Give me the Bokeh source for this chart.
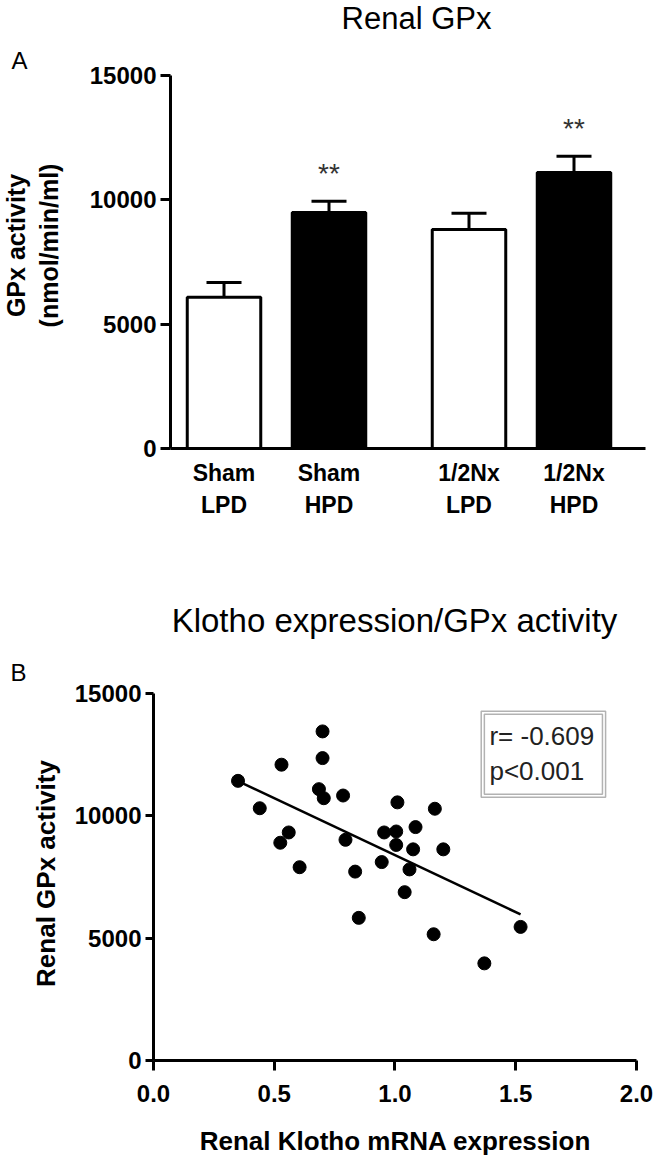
import math
from bokeh.plotting import figure
from bokeh.layouts import column
from bokeh.models import Label, FixedTicker, BoxAnnotation, Range1d, NumeralTickFormatter
from bokeh.core.properties import value
from bokeh.embed import file_html
from bokeh.resources import INLINE

# ---------------- data ----------------
groups = ["Sham\nLPD", "Sham\nHPD", "1/2Nx\nLPD", "1/2Nx\nHPD"]
gpx_mean = [6080, 9490, 8810, 11100]
gpx_sem = [600, 450, 650, 650]
signif = ["", "**", "", "**"]

klotho_mrna = [0.35, 0.44, 0.53, 0.70, 0.70, 0.685, 0.705, 0.785, 0.56, 0.525,
               0.605, 0.795, 0.835, 0.945, 0.955, 1.01, 1.005, 1.005, 1.085, 1.075,
               1.20, 1.06, 1.04, 1.165, 0.85, 1.16, 1.52, 1.37]
renal_gpx = [11430, 10310, 12090, 13450, 12360, 11090, 10720, 10830, 9320, 8900,
             7900, 9020, 7720, 8110, 9320, 10550, 9360, 8810, 9540, 8630,
             8630, 7810, 6880, 10290, 5830, 5160, 5460, 3970]
fit_x = [0.35, 1.52]
fit_y = [11420, 5970]
stats_text = ["r= -0.609", "p<0.001"]

FONT = "Liberation Sans"


def style_axis(ax, size="24px", tick_out=10, standoff=4):
    ax.major_tick_out = tick_out
    ax.major_tick_in = 0
    ax.major_tick_line_width = 3
    ax.major_tick_line_color = "black"
    ax.minor_tick_line_color = None
    ax.axis_line_width = 3
    ax.axis_line_color = "black"
    ax.major_label_text_font = FONT
    ax.major_label_text_font_style = "bold"
    ax.major_label_text_font_size = size
    ax.major_label_text_color = "black"
    ax.major_label_standoff = standoff


def label(p, x, y, text, size, bold=False, angle=0.0, align="center", color="black"):
    p.add_layout(Label(x=x, y=y, text=text, text_align=align, text_baseline="middle",
                       angle=angle, text_font=FONT, text_font_style="bold" if bold else "normal",
                       text_font_size=size, text_color=color))


# ---------------- panel A ----------------
xpos = [1, 4, 8, 11]
fills = ["white", "black", "white", "black"]

p1 = figure(width=666, height=563, output_backend="svg", toolbar_location=None,
            x_range=Range1d(-5.386, 13.643), y_range=Range1d(-4625, 18016),
            min_border=0, min_border_left=0, min_border_right=0,
            min_border_top=0, min_border_bottom=0)
p1.outline_line_color = None
p1.grid.grid_line_color = None

err_top = [m + s for m, s in zip(gpx_mean, gpx_sem)]
p1.segment(x0=xpos, y0=gpx_mean, x1=xpos, y1=err_top, line_color="black", line_width=3)
p1.segment(x0=[x - 0.5 for x in xpos], y0=err_top, x1=[x + 0.5 for x in xpos], y1=err_top,
           line_color="black", line_width=3)
p1.vbar(x=xpos, top=gpx_mean, width=2.1, bottom=0, fill_color=fills, line_color="black", line_width=3)
p1.text(x=xpos, y=[t + 1100 for t in err_top], text=signif, text_align="center",
        text_baseline="alphabetic", text_font=value(FONT), text_font_size="28px", text_color="#333333")

xa = p1.xaxis[0]
xa.fixed_location = 0
xa.bounds = (-0.529, 13.043)
xa.ticker = FixedTicker(ticks=xpos)
xa.major_label_overrides = {x: g for x, g in zip(xpos, groups)}
style_axis(xa, size="23px", tick_out=0, standoff=12)
xa.major_tick_line_color = None

ya = p1.yaxis[0]
ya.fixed_location = -0.529
ya.bounds = (0, 15000)
ya.ticker = FixedTicker(ticks=[0, 5000, 10000, 15000])
ya.formatter = NumeralTickFormatter(format="0")
style_axis(ya, size="24px", tick_out=10, standoff=4)

label(p1, 6.50, 17290, "Renal GPx", "31px")
label(p1, -4.843, 15602, "A", "24px")
label(p1, -4.929, 8163, "GPx activity", "25px", bold=True, angle=math.pi / 2)
label(p1, -3.986, 8163, "(nmol/min/ml)", "25px", bold=True, angle=math.pi / 2)

# ---------------- panel B ----------------
p2 = figure(width=666, height=597, output_backend="svg", toolbar_location=None,
            x_range=Range1d(-0.6335, 2.1242), y_range=Range1d(-4087, 20313),
            min_border=0, min_border_left=0, min_border_right=0,
            min_border_top=0, min_border_bottom=0)
p2.outline_line_color = None
p2.grid.grid_line_color = None

p2.line(fit_x, fit_y, line_color="black", line_width=2.5)
p2.scatter(klotho_mrna, renal_gpx, size=13, fill_color="black", line_color="black")

bx = p2.xaxis[0]
bx.fixed_location = 0
bx.bounds = (0, 2)
bx.ticker = FixedTicker(ticks=[0, 0.5, 1.0, 1.5, 2.0])
bx.formatter = NumeralTickFormatter(format="0.0")
style_axis(bx, size="24px", tick_out=10, standoff=14)

by = p2.yaxis[0]
by.fixed_location = 0
by.bounds = (0, 15000)
by.ticker = FixedTicker(ticks=[0, 5000, 10000, 15000])
by.formatter = NumeralTickFormatter(format="0")
style_axis(by, size="24px", tick_out=8, standoff=4)

label(p2, -0.447, 7643, "Renal GPx activity", "26px", bold=True, angle=math.pi / 2)
label(p2, 1.002, -3270, "Renal Klotho mRNA expression", "26px", bold=True)

# stats box (double border)
p2.add_layout(BoxAnnotation(left=1.357, right=1.872, bottom=10761, top=14276,
                            fill_color=None, line_color="black", line_width=1.5))
p2.add_layout(BoxAnnotation(left=1.370, right=1.859, bottom=10884, top=14153,
                            fill_color=None, line_color="black", line_width=1.5))
label(p2, 1.391, 13283, stats_text[0], "26px", align="left", color="#222222")
label(p2, 1.391, 11852, stats_text[1], "26px", align="left", color="#222222")

label(p2, 0.998, 17983, "Klotho expression/GPx activity", "33px")
label(p2, -0.559, 15858, "B", "24px")

layout = column(p1, p2, spacing=0)
open("out.html", "w").write(file_html(layout, INLINE))
